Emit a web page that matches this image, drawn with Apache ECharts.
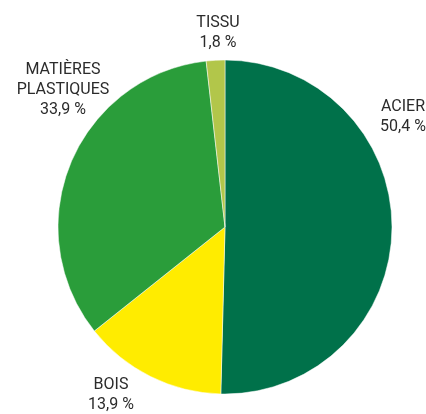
<!DOCTYPE html>
<html>
<head>
<meta charset="utf-8">
<script src="https://cdn.jsdelivr.net/npm/echarts@6/dist/echarts.min.js"></script>
<style>
  html, body { margin: 0; padding: 0; background: #fff; }
  #chart { width: 426px; height: 414px; }
</style>
</head>
<body>
<div id="chart"></div>
<script>
const categories = ['ACIER', 'BOIS', 'MATIÈRES PLASTIQUES', 'TISSU'];
const shares = [50.4, 13.9, 33.9, 1.8];
const colors = ['#00714a', '#ffec00', '#2a9d3a', '#b2c64a'];
// label centres, in pixels
const labelPos = [[403, 117], [111, 395], [63, 90], [218, 33]];

const chart = echarts.init(document.getElementById('chart'));

const option = {
  animation: false,
  series: [
    {
      type: 'pie',
      center: [225, 227],
      radius: 167,
      startAngle: 90,
      clockwise: true,
      data: categories.map((name, i) => ({
        name: name,
        value: shares[i],
        itemStyle: { color: colors[i] }
      })),
      itemStyle: { borderColor: '#fff', borderWidth: 0.5 },
      label: {
        show: true,
        position: 'outside',
        overflow: 'none',
        fontFamily: 'Roboto',
        fontSize: 16,
        lineHeight: 20,
        color: '#2b2b2b',
        align: 'center',
        formatter: p => p.name.replace(' ', '\n') + '\n' + String(p.value).replace('.', ',') + ' %'
      },
      labelLine: { show: false },
      labelLayout: p => ({
        x: labelPos[p.dataIndex][0],
        y: labelPos[p.dataIndex][1],
        align: 'center',
        verticalAlign: 'middle'
      })
    }
  ]
};

chart.setOption(option);
window.addEventListener('resize', () => chart.resize());
</script>
</body>
</html>
